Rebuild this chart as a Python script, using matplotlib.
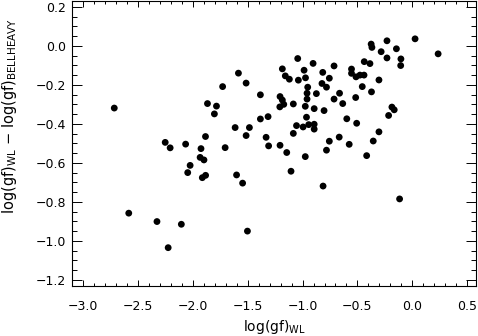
import matplotlib
matplotlib.use("Agg")
import matplotlib.pyplot as plt
from matplotlib.ticker import MultipleLocator, FuncFormatter

# log(gf) from WL
gf_wl = [
    -2.715, -1.728, -1.866, -1.784, -1.803, -1.884, -2.251, -2.065, -1.044, -0.904,
    -0.713, -1.184, -1.584, -0.986, -0.816, -1.157, -1.120, -1.038, -0.973, -0.756,
    -1.514, -0.823, -0.782, -0.953, -0.959, -0.874, -1.384, -0.663, -1.205, -0.713,
    -1.184, -0.959, -1.171, -1.084, -1.207, -0.975, -0.894, -0.804, -0.634, -1.314,
    -1.384, -0.964, -1.614, -1.484, -1.055, -0.995, -0.944, -0.894, -0.894, -1.514,
    -1.084, -1.332, -0.756, -0.666, 0.025, -0.231, -0.375, -0.368, -0.145, -0.284,
    0.235, -0.231, -0.104, -0.106, -0.438, -0.386, -0.554, -0.554, -0.513, -0.477,
    -0.440, -0.304, -0.456, -0.372, -0.516, -0.186, -0.165, -0.216, -0.597, -0.507,
    -0.304, -0.356, -0.575, -2.206, -1.925, -1.933, -1.898, -1.705, -2.024, -2.046,
    -1.913, -1.883, -2.583, -2.326, -2.104, -2.224, -1.309, -1.205, -1.144, -0.975,
    -0.782, -1.601, -1.546, -1.105, -0.813, -1.502, -0.416, -0.116,
]

# log(gf)_WL - log(gf)_BELLHEAVY
gf_diff = [
    -0.319, -0.209, -0.296, -0.309, -0.349, -0.465, -0.495, -0.504, -0.065, -0.090,
    -0.103, -0.118, -0.140, -0.125, -0.136, -0.154, -0.171, -0.176, -0.164, -0.166,
    -0.191, -0.193, -0.212, -0.212, -0.243, -0.245, -0.251, -0.243, -0.260, -0.273,
    -0.278, -0.273, -0.300, -0.298, -0.313, -0.310, -0.322, -0.332, -0.296, -0.363,
    -0.375, -0.366, -0.419, -0.419, -0.409, -0.416, -0.404, -0.402, -0.427, -0.460,
    -0.449, -0.469, -0.489, -0.468, 0.036, 0.026, 0.009, -0.008, -0.015, -0.030,
    -0.041, -0.062, -0.067, -0.101, -0.081, -0.091, -0.119, -0.141, -0.159, -0.150,
    -0.150, -0.175, -0.209, -0.236, -0.265, -0.314, -0.328, -0.357, -0.374, -0.397,
    -0.441, -0.488, -0.505, -0.523, -0.527, -0.572, -0.585, -0.522, -0.613, -0.650,
    -0.676, -0.664, -0.858, -0.901, -0.915, -1.035, -0.513, -0.510, -0.547, -0.568,
    -0.535, -0.662, -0.704, -0.643, -0.719, -0.950, -0.563, -0.785,
]

plt.rcParams["font.family"] = "DejaVu Sans"
plt.rcParams["font.size"] = 9
plt.rcParams["mathtext.default"] = "regular"

fig = plt.figure(figsize=(4.78, 3.36), dpi=100)
ax = fig.add_axes([72 / 478, 1 - 285.7 / 336, 404 / 478, 284.7 / 336])

ax.scatter(gf_wl, gf_diff, s=24, c="black", edgecolors="none")

ax.set_xlim(-3.1, 0.58)
ax.set_ylim(-1.23, 0.23)

ax.xaxis.set_major_locator(MultipleLocator(0.5))
ax.xaxis.set_minor_locator(MultipleLocator(0.1))
ax.yaxis.set_major_locator(MultipleLocator(0.2))
ax.yaxis.set_minor_locator(MultipleLocator(0.05))


def fmt(v, pos):
    s = "%.1f" % (round(v, 3) + 0.0)
    if s == "-0.0":
        s = "0.0"
    return s.replace("-", "\u2212")


ax.xaxis.set_major_formatter(FuncFormatter(fmt))
ax.yaxis.set_major_formatter(FuncFormatter(fmt))

ax.tick_params(axis="both", which="both", direction="in", top=True, right=True,
               width=0.7, colors="black")
ax.tick_params(axis="x", which="major", length=4.1, pad=10)
ax.tick_params(axis="x", which="minor", length=2.1)
ax.tick_params(axis="y", which="major", length=7.2, pad=4)
ax.tick_params(axis="y", which="minor", length=3.6)
for sp in ax.spines.values():
    sp.set_linewidth(0.8)

ax.set_xlabel(r"log(gf)$_{\rm WL}$", fontsize=10)
ax.xaxis.set_label_coords(0.5, -0.115)
ax.set_ylabel(r"log(gf)$_{\rm WL}$ $-$ log(gf)$_{\rm BELLHEAVY}$", fontsize=10.5)
ax.yaxis.set_label_coords(-0.13, 0.596)

fig.savefig("out.png", dpi=100)
